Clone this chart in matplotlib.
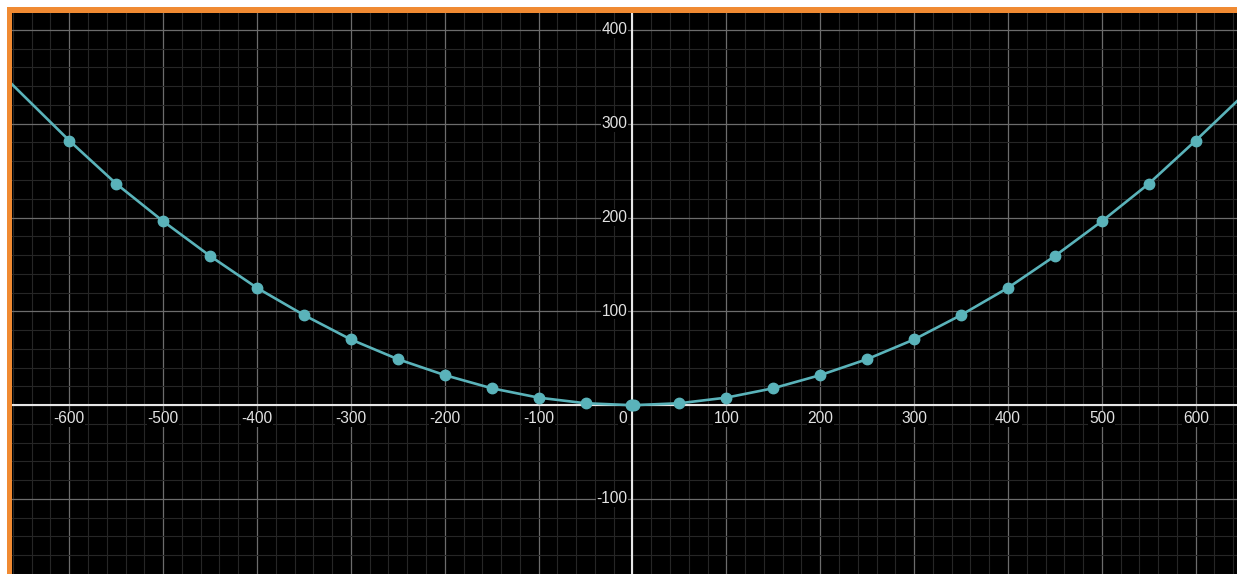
import numpy as np
import matplotlib.pyplot as plt
from matplotlib.patches import Rectangle
from matplotlib.ticker import MultipleLocator

x_points = [-600, -550, -500, -450, -400, -350, -300, -250, -200, -150, -100, -50,
            -2, 0, 2,
            50, 100, 150, 200, 250, 300, 350, 400, 450, 500, 550, 600]
y_points = [282, 236, 196, 159, 125, 96, 70, 49, 32, 18, 8, 2,
            0, 0, 0,
            2, 8, 18, 32, 49, 70, 96, 125, 159, 196, 236, 282]

# curve runs out to the plot edges
x_curve = [-661] + x_points + [644]
y_curve = [342] + y_points + [324]

x_ticks = [-600, -500, -400, -300, -200, -100, 100, 200, 300, 400, 500, 600]
y_ticks = [400, 300, 200, 100, -100]

W, H = 1237, 574
teal = '#5ab3ba'
label_color = '#e2e2e2'

fig = plt.figure(figsize=(W / 100, H / 100), dpi=100)
fig.patch.set_facecolor('white')

# orange frame on top and left
fig.patches.append(Rectangle((7 / W, 0), 1, (H - 7) / H, transform=fig.transFigure,
                             facecolor='#f08a32', edgecolor='none', zorder=-10))

ax = fig.add_axes([12 / W, 0, (W - 12) / W, (H - 13) / H])
ax.set_zorder(5)
ax.set_facecolor('black')
ax.set_xlim(-661, 644)
ax.set_ylim(-180, 418)

ax.xaxis.set_major_locator(MultipleLocator(100))
ax.yaxis.set_major_locator(MultipleLocator(100))
ax.xaxis.set_minor_locator(MultipleLocator(20))
ax.yaxis.set_minor_locator(MultipleLocator(20))
ax.grid(which='minor', color='#262626', linewidth=0.8)
ax.grid(which='major', color='#6c6c6c', linewidth=0.9)
ax.tick_params(which='both', length=0, labelbottom=False, labelleft=False)
for s in ax.spines.values():
    s.set_visible(False)

ax.axhline(0, color='#e6e6e6', linewidth=1.5, zorder=2)
ax.axvline(0, color='#e6e6e6', linewidth=1.5, zorder=2)

box = dict(facecolor='black', edgecolor='none', pad=0.5)
font = dict(family=['Liberation Sans', 'DejaVu Sans'], fontsize=11.2, color=label_color)
for t in x_ticks:
    ax.annotate(str(t), (t, 0), xytext=(0, -13.5), textcoords='offset pixels',
                ha='center', va='center', bbox=box, zorder=3, **font)
for t in y_ticks:
    ax.annotate(str(t), (0, t), xytext=(-5, 0), textcoords='offset pixels',
                ha='right', va='center', bbox=box, zorder=3, **font)
ax.annotate('0', (0, 0), xytext=(-5, -13.5), textcoords='offset pixels',
            ha='right', va='center', bbox=box, zorder=3, **font)

ax.plot(x_curve, y_curve, color=teal, linewidth=1.9, zorder=4)
ax.plot(x_points, y_points, 'o', color=teal, markersize=7.5, zorder=5)

fig.savefig('out.png', dpi=100, facecolor=fig.get_facecolor())
